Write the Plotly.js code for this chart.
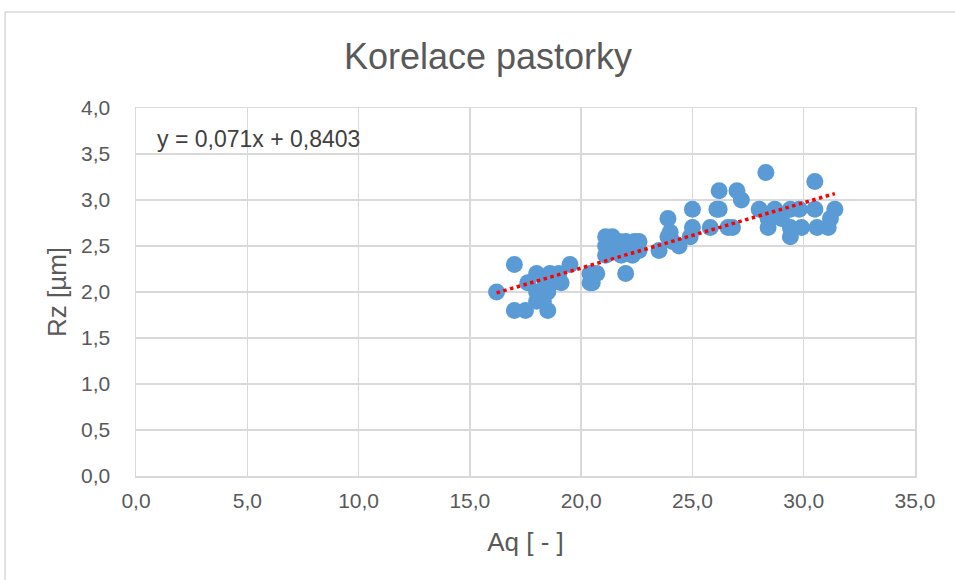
<!DOCTYPE html>
<html>
<head>
<meta charset="utf-8">
<script src="https://cdn.plot.ly/plotly-3.0.1.min.js"></script>
<style>html,body{margin:0;padding:0;background:#fff;}#chart{width:955px;height:580px;}</style>
</head>
<body>
<div id="chart"></div>
<script>
const aq = [16.2, 17.0, 17.0, 17.5, 17.6, 18.0, 18.0, 18.0, 18.3, 18.5, 18.6, 18.7, 18.5, 19.0, 19.1, 19.5, 18.4,
  20.4, 20.4, 20.7, 20.5, 21.1, 21.4, 21.1, 21.1, 21.4, 21.7, 21.8, 22.0, 22.0, 22.2, 22.4, 22.6, 22.3, 22.6,
  23.5, 23.9, 23.9, 24.0, 24.1, 24.4, 24.9, 25.0, 25.0, 25.8, 26.1, 26.2, 26.2, 26.6, 26.8, 27.0, 27.2,
  28.0, 28.3, 28.4, 28.4, 28.7, 29.0, 29.4, 29.4, 29.4, 29.8, 29.9, 30.5, 30.5, 30.6, 31.1, 31.2, 31.4];
const rz = [2.0, 2.3, 1.8, 1.8, 2.1, 2.2, 2.0, 1.9, 1.9, 1.8, 2.2, 2.1, 2.0, 2.2, 2.1, 2.3, 2.1,
  2.2, 2.1, 2.2, 2.1, 2.6, 2.6, 2.5, 2.4, 2.5, 2.55, 2.4, 2.2, 2.55, 2.45, 2.55, 2.55, 2.4, 2.45,
  2.45, 2.6, 2.8, 2.65, 2.55, 2.5, 2.6, 2.7, 2.9, 2.7, 2.9, 3.1, 2.9, 2.7, 2.7, 3.1, 3.0,
  2.9, 3.3, 2.8, 2.7, 2.9, 2.8, 2.9, 2.7, 2.6, 2.9, 2.7, 2.9, 3.2, 2.7, 2.7, 2.8, 2.9];
const slope = 0.071, intercept = 0.8403;
const trendX = [Math.min(...aq), Math.max(...aq)];
const trendY = trendX.map(v => slope * v + intercept);

const font = "'Liberation Sans', Arial, sans-serif";
const grey = '#595959';

const data = [
  {x: aq, y: rz, type: 'scatter', mode: 'markers',
   marker: {color: '#5b9bd5', size: 17}, hoverinfo: 'x+y'},
  {x: trendX, y: trendY, type: 'scatter', mode: 'lines',
   line: {color: '#ff0000', width: 3.5, dash: 'dot'}}
];

const layout = {
  width: 955, height: 580,
  margin: {l: 136, r: 40, t: 108, b: 104},
  paper_bgcolor: '#ffffff', plot_bgcolor: '#ffffff',
  showlegend: false,
  separators: ', ',
  font: {family: font, color: grey},
  title: {text: 'Korelace pastorky', font: {family: font, size: 36, color: grey},
          x: 0.511, xref: 'container', y: 0.902, yref: 'container', xanchor: 'center', yanchor: 'middle'},
  xaxis: {range: [0, 35], dtick: 5, tick0: 0, tickformat: '.1f',
          showgrid: true, gridcolor: '#d9d9d9', gridwidth: 1.5,
          zeroline: false, showline: true, linecolor: '#d9d9d9', linewidth: 1.5, mirror: true,
          ticks: '', ticklabelstandoff: 5, tickfont: {family: font, size: 21, color: grey},
          title: {text: 'Aq [ - ]', font: {family: font, size: 26, color: grey}, standoff: 22}},
  yaxis: {range: [0, 4], dtick: 0.5, tick0: 0, tickformat: '.1f',
          showgrid: true, gridcolor: '#d9d9d9', gridwidth: 1.5,
          zeroline: false, showline: true, linecolor: '#d9d9d9', linewidth: 1.5, mirror: true,
          ticks: '', ticklabelstandoff: 20, tickfont: {family: font, size: 21, color: grey},
          title: {text: 'Rz [µm]', font: {family: font, size: 26, color: grey}, standoff: 7}},
  annotations: [
    {text: 'y = 0,071x + 0,8403', xref: 'paper', yref: 'paper', x: 0.024, y: 0.916,
     xanchor: 'left', yanchor: 'middle', showarrow: false,
     font: {family: font, size: 23, color: '#404040'}}
  ],
  shapes: [
    {type: 'rect', xref: 'paper', yref: 'paper', x0: -0.168, x1: 1.2, y0: -0.4, y1: 1.261,
     line: {color: '#d9d9d9', width: 1.5}, fillcolor: 'rgba(0,0,0,0)', layer: 'below'}
  ]
};

Plotly.newPlot('chart', data, layout, {displayModeBar: false, staticPlot: true});
</script>
</body>
</html>
